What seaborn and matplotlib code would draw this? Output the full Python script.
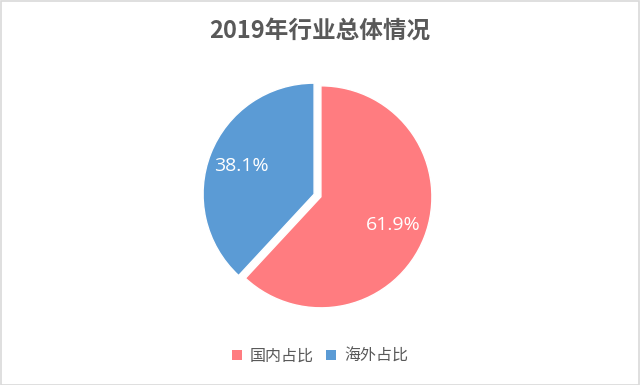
import matplotlib
matplotlib.use("Agg")
import matplotlib.pyplot as plt
import seaborn as sns
from matplotlib.patches import Patch, Rectangle

categories = ["国内占比", "海外占比"]
values = [61.9, 38.1]
colors = ["#FF7C80", "#5B9BD5"]
title = "2019年行业总体情况"

sns.set_theme(style="white")
plt.rcParams['font.family'] = ['Noto Sans CJK SC', 'DejaVu Sans']

W, H = 640, 385
fig = plt.figure(figsize=(W / 100, H / 100), dpi=100)
fig.patch.set_facecolor("white")
fig.patches.append(Rectangle((0.5 / W, 0.5 / H), 1 - 1.5 / W, 1 - 1.5 / H,
                             transform=fig.transFigure, fill=False,
                             edgecolor="#D9D9D9", linewidth=1.2))

r = 111
cx, cy = 317.5, H - 195.5
ax = fig.add_axes([(cx - r) / W, (cy - r) / H, 2 * r / W, 2 * r / H])
wedges, texts, autotexts = ax.pie(values, colors=colors, startangle=90,
                                  counterclock=False, explode=[0.033, 0.033],
                                  autopct="%.1f%%", pctdistance=0.7,
                                  textprops=dict(color="white", fontsize=14,
                                                 family=['Open Sans', 'DejaVu Sans']))
ax.set_xlim(-1, 1)
ax.set_ylim(-1, 1)
ax.set_aspect("equal")
ax.axis("off")

fig.text(0.5, 1 - 31 / H, title, ha="center", va="center", fontsize=17,
         fontweight="bold", color="#595959")

handles = [Patch(facecolor=c, edgecolor="none", label=l) for c, l in zip(colors, categories)]
leg = fig.legend(handles=handles, loc="center", bbox_to_anchor=(0.5, 1 - 356 / H),
                 ncol=2, frameon=False, fontsize=11.5, handlelength=0.6, handleheight=0.6,
                 handletextpad=0.5, columnspacing=0.8)
for t in leg.get_texts():
    t.set_color("#595959")

fig.savefig("out.png", dpi=100, facecolor="white")
